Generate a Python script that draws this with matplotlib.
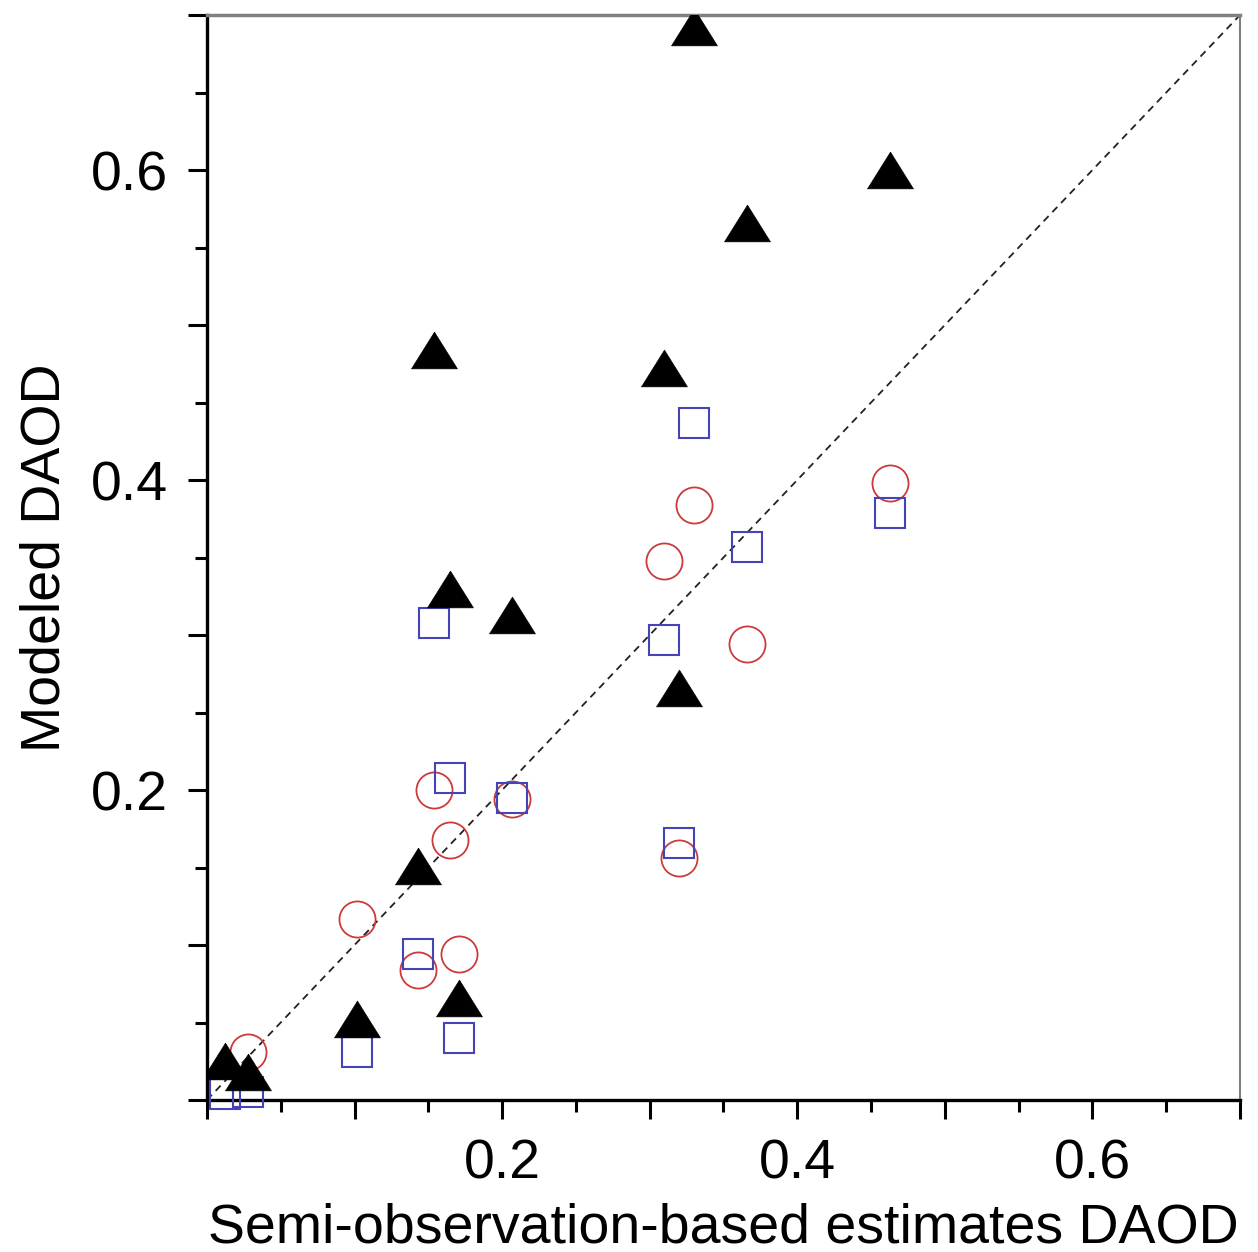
import numpy as np
import matplotlib.pyplot as plt
from matplotlib.ticker import MultipleLocator, FuncFormatter

# DATA

# semi-observation-based DAOD, shared by the three model series
obs = [0.330, 0.463, 0.366, 0.154, 0.310, 0.165, 0.207,
       0.320, 0.143, 0.171, 0.102, 0.012, 0.028]

model_tri = [0.692, 0.600, 0.566, 0.484, 0.472, 0.330, 0.313,
             0.266, 0.151, 0.066, 0.052, 0.025, 0.018]

model_sq = [0.437, 0.379, 0.357, 0.308, 0.297, 0.208, 0.195,
            0.166, 0.094, 0.040, 0.031, 0.004, 0.005]

# one site has no visible circle in the original
model_circ = [0.384, 0.398, 0.294, 0.200, 0.348, 0.168, 0.194,
              0.156, 0.084, 0.094, 0.117, np.nan, 0.031]

shown_ticks = [0.2, 0.4, 0.6]

# STYLE

plt.rcParams['font.family'] = ['Liberation Sans', 'DejaVu Sans']

# wider than tall triangle, like the original
tri_marker = [(-1, -0.8), (1, -0.8), (0, 0.8), (-1, -0.8)]

fig = plt.figure(figsize=(12.58, 12.52), dpi=100)
ax = fig.add_axes([0.1645, 0.1214, 0.8212, 0.8666])

# 1:1 line
ax.plot([0, 0.7], [0, 0.7], color='#222222', lw=1.3,
        linestyle=(0, (4, 3)), zorder=1)

ax.plot(obs, model_circ, linestyle='none', marker='o', ms=26,
        mfc='none', mec='#cc3b3b', mew=1.3, zorder=2, clip_on=False)
ax.plot(obs, model_sq, linestyle='none', marker='s', ms=22,
        mfc='none', mec='#4444b8', mew=1.5, zorder=3, clip_on=False)
ax.plot(obs, model_tri, linestyle='none', marker=tri_marker, ms=33,
        mfc='black', mec='black', mew=0.5, zorder=4)

ax.set_xlim(0, 0.7)
ax.set_ylim(0, 0.7)

# AXES / TICKS

for axis in (ax.xaxis, ax.yaxis):
    axis.set_major_locator(MultipleLocator(0.1))
    axis.set_minor_locator(MultipleLocator(0.05))
    axis.set_major_formatter(FuncFormatter(
        lambda v, p: f"{v:.1f}" if any(abs(v - t) < 1e-6 for t in shown_ticks) else ""))

ax.tick_params(which='major', direction='out', length=14, width=2.2,
               labelsize=40, pad=14)
ax.tick_params(which='minor', direction='out', length=8.5, width=2.2)
ax.tick_params(top=False, right=False)

ax.spines['left'].set_linewidth(2.4)
ax.spines['bottom'].set_linewidth(2.4)
ax.spines['top'].set_color('#808080')
ax.spines['right'].set_color('#808080')
ax.spines['top'].set_linewidth(2.5)
ax.spines['right'].set_linewidth(1.5)

ax.set_xlabel("Semi-observation-based estimates DAOD", fontsize=40, labelpad=8)
ax.set_ylabel("Modeled DAOD", fontsize=40, labelpad=14)

fig.savefig("out.png", dpi=100)
